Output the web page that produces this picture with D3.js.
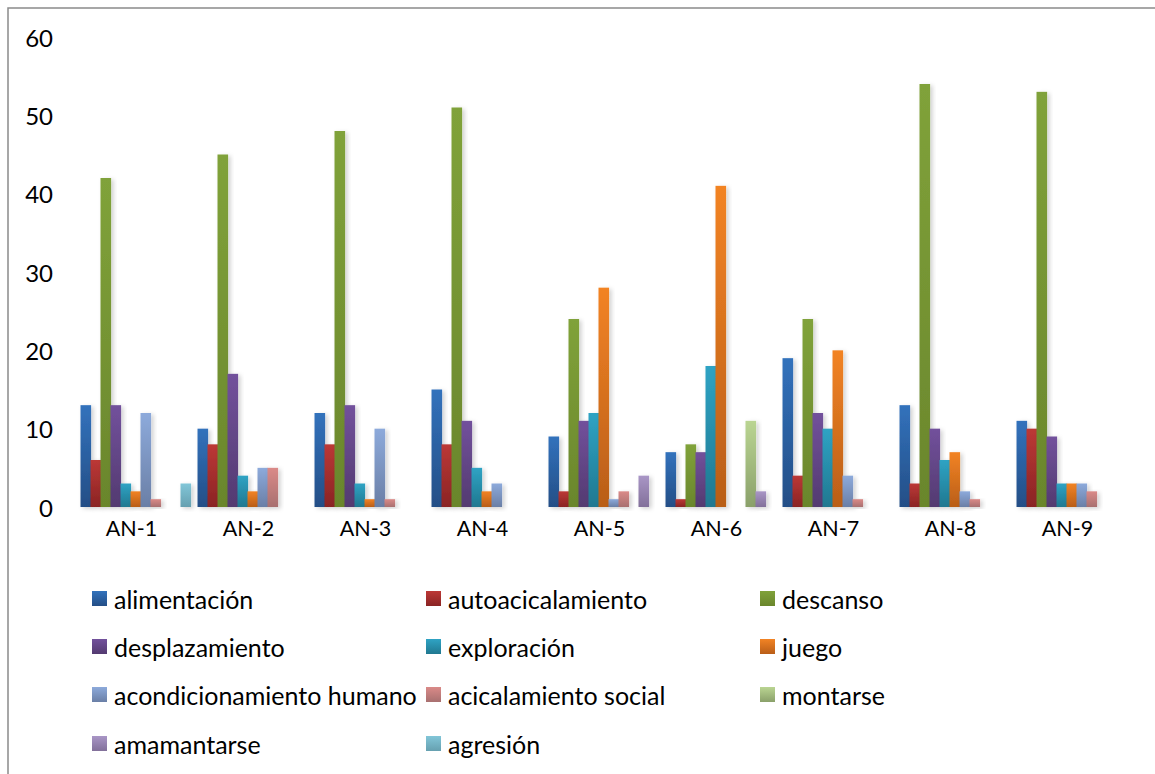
<!DOCTYPE html>
<html>
<head>
<meta charset="utf-8">
<script src="https://cdn.jsdelivr.net/npm/d3@7"></script>
<style>
html,body{margin:0;padding:0;background:#fff;}
svg{display:block;}
</style>
</head>
<body>
<svg id="chart" width="1155" height="774"></svg>
<script>
const categories = ["AN-1","AN-2","AN-3","AN-4","AN-5","AN-6","AN-7","AN-8","AN-9"];
const seriesNames = ["alimentación","autoacicalamiento","descanso","desplazamiento","exploración","juego","acondicionamiento humano","acicalamiento social","montarse","amamantarse","agresión"];
const alimentacion      = [13,10,12,15, 9, 7,19,13,11];
const autoacicalamiento = [ 6, 8, 8, 8, 2, 1, 4, 3,10];
const descanso          = [42,45,48,51,24, 8,24,54,53];
const desplazamiento    = [13,17,13,11,11, 7,12,10, 9];
const exploracion       = [ 3, 4, 3, 5,12,18,10, 6, 3];
const juego             = [ 2, 2, 1, 2,28,41,20, 7, 3];
const acondicionamiento = [12, 5,10, 3, 1, 0, 4, 2, 3];
const acicalamientoSoc  = [ 1, 5, 1, 0, 2, 0, 1, 1, 2];
const montarse          = [ 0, 0, 0, 0, 0,11, 0, 0, 0];
const amamantarse       = [ 0, 0, 0, 0, 4, 2, 0, 0, 0];
const agresion          = [ 3, 0, 0, 0, 0, 0, 0, 0, 0];
const yTicks = [0,10,20,30,40,50,60];

const seriesValues = [alimentacion,autoacicalamiento,descanso,desplazamiento,exploracion,juego,acondicionamiento,acicalamientoSoc,montarse,amamantarse,agresion];
const colorsTop = ["#3272bc","#bc3836","#80a23a","#72519c","#2fa3c4","#f28324","#8daadb","#da8a88","#bad592","#a996c6","#82c6d8"];
const colorsBot = ["#244e86","#8a2424","#6a862c","#533a70","#207890","#b95e18","#6a7fa6","#a87070","#8aa06a","#82709a","#66a0b0"];

const svg = d3.select("#chart");
const fontFam = "Lato, 'Open Sans', sans-serif";

const defs = svg.append("defs");
seriesNames.forEach((s,i)=>{
  const g = defs.append("linearGradient").attr("id","g"+i).attr("x1",0).attr("y1",0).attr("x2",0).attr("y2",1);
  g.append("stop").attr("offset","0%").attr("stop-color",colorsTop[i]);
  g.append("stop").attr("offset","100%").attr("stop-color",colorsBot[i]);
});
const f = defs.append("filter").attr("id","sh").attr("x","-50%").attr("y","-10%").attr("width","200%").attr("height","130%");
f.append("feDropShadow").attr("dx",2.5).attr("dy",1.5).attr("stdDeviation",2).attr("flood-color","#000").attr("flood-opacity",0.18);

svg.append("rect").attr("x",8).attr("y",8).attr("width",1170).attr("height",800)
  .attr("fill","none").attr("stroke","#8a8a8a").attr("stroke-width",1.5);

const x0 = 77, x1 = 1130, yb = 507, yt = 37;
const x = d3.scaleBand().domain(categories).range([x0,x1]).paddingInner(0.06).paddingOuter(0.03);
const xs = d3.scaleBand().domain(seriesNames).range([0,x.bandwidth()]);
const y = d3.scaleLinear().domain([0,60]).range([yb,yt]);

const groups = svg.append("g").selectAll("g").data(categories).join("g")
  .attr("transform",d=>`translate(${x(d)},0)`);
groups.selectAll("rect")
  .data((c,ci)=>seriesNames.map((s,si)=>({s,si,v:seriesValues[si][ci]})).filter(d=>d.v>0))
  .join("rect")
  .attr("x",d=>xs(d.s))
  .attr("width",xs.bandwidth()+0.6)
  .attr("y",d=>y(d.v))
  .attr("height",d=>yb-y(d.v))
  .attr("fill",d=>`url(#g${d.si})`)
  .attr("filter","url(#sh)");

const axisG = svg.append("g");
axisG.append("line").attr("x1",x0).attr("x2",x0).attr("y1",yt).attr("y2",yb)
  .attr("stroke","#8c8c8c").attr("stroke-width",2).attr("filter","url(#sh)");
axisG.append("line").attr("x1",x0-1).attr("x2",x1).attr("y1",yb).attr("y2",yb)
  .attr("stroke","#8c8c8c").attr("stroke-width",2.2).attr("filter","url(#sh)");

svg.append("g").selectAll("text").data(yTicks).join("text")
  .attr("x",53).attr("y",d=>y(d)).attr("text-anchor","end").attr("dominant-baseline","central")
  .attr("font-family",fontFam).attr("font-size",24).attr("fill","#000").text(d=>d);

svg.append("g").selectAll("text").data(categories).join("text")
  .attr("x",d=>x(d)+x.bandwidth()/2-4).attr("y",528).attr("text-anchor","middle").attr("dominant-baseline","central")
  .attr("font-family",fontFam).attr("font-size",21.5).attr("fill","#000").text(d=>d);

const colX = [92,426,760];
const rowY = [591,639,687,736];
const lg = svg.append("g");
seriesNames.forEach((s,i)=>{
  const cx = colX[i%3], ry = rowY[Math.floor(i/3)];
  lg.append("rect").attr("x",cx).attr("y",ry).attr("width",15).attr("height",15).attr("fill",`url(#g${i})`);
  lg.append("text").attr("x",cx+22).attr("y",ry+8).attr("dominant-baseline","central")
    .attr("font-family",fontFam).attr("font-size",21).attr("fill","#000").text(s);
});
const longest = lg.selectAll("text").filter(function(){return this.textContent==="acondicionamiento humano";}).node();
const w = longest.getComputedTextLength();
const fs = 21*303/w;
lg.selectAll("text").attr("font-size",fs);
</script>
</body>
</html>
